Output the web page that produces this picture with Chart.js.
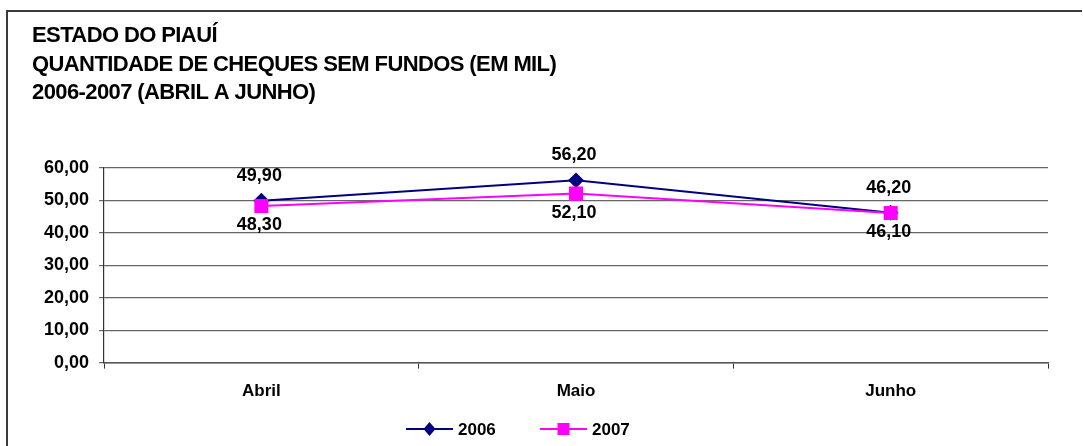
<!DOCTYPE html>
<html>
<head>
<meta charset="utf-8">
<script src="https://cdn.jsdelivr.net/npm/chart.js@4/dist/chart.umd.min.js"></script>
<style>
  html, body { margin: 0; padding: 0; background: #fff; }
  #wrap { width: 1083px; height: 446px; position: relative; }
</style>
</head>
<body>
<div id="wrap"><canvas id="c" width="1083" height="446"></canvas></div>
<script>
const titleLines = ['ESTADO DO PIAUÍ', 'QUANTIDADE DE CHEQUES SEM FUNDOS (EM MIL)', '2006-2007 (ABRIL A JUNHO)'];
const categories = ['Abril', 'Maio', 'Junho'];
const seriesNames = ['2006', '2007'];
const values2006 = [49.9, 56.2, 46.2];
const values2007 = [48.3, 52.1, 46.1];
const yMin = 0, yMax = 60, yStep = 10;

const FONT = '"Liberation Sans", Arial, sans-serif';
const fmt = v => v.toFixed(2).replace('.', ',');

const framePlugin = {
  id: 'frame',
  beforeDraw(chart) {
    const ctx = chart.ctx;
    ctx.save();
    ctx.fillStyle = '#fff';
    ctx.fillRect(0, 0, chart.width, chart.height);
    ctx.strokeStyle = '#3a3a3a';
    ctx.lineWidth = 2;
    ctx.beginPath();
    ctx.moveTo(7, chart.height);
    ctx.lineTo(7, 11);
    ctx.lineTo(1082, 11);
    ctx.stroke();
    // title
    ctx.fillStyle = '#000';
    ctx.font = 'bold 22px ' + FONT;
    ctx.letterSpacing = '-0.6px';
    ctx.textBaseline = 'alphabetic';
    ctx.textAlign = 'left';
    const baselines = [42, 70.5, 99];
    titleLines.forEach((t, i) => ctx.fillText(t, 32, baselines[i]));
    ctx.restore();
  },
  afterDatasetsDraw(chart) {
    const ctx = chart.ctx;
    ctx.save();
    ctx.fillStyle = '#000';
    ctx.font = 'bold 18px ' + FONT;
    ctx.textAlign = 'center';
    ctx.textBaseline = 'middle';
    chart.data.datasets.forEach((ds, di) => {
      const meta = chart.getDatasetMeta(di);
      meta.data.forEach((pt, i) => {
        const off = di === 0 ? -25 : 19;
        ctx.fillText(fmt(ds.data[i]), pt.x - 2, pt.y + off);
      });
    });
    // custom legend
    const items = [
      { x: 406, ds: chart.data.datasets[0] },
      { x: 540, ds: chart.data.datasets[1] }
    ];
    const y = 429;
    items.forEach(it => {
      ctx.strokeStyle = it.ds.borderColor;
      ctx.lineWidth = 2;
      ctx.beginPath();
      ctx.moveTo(it.x, y);
      ctx.lineTo(it.x + 47, y);
      ctx.stroke();
      const cx = it.x + 23.5;
      ctx.fillStyle = it.ds.pointBackgroundColor;
      ctx.beginPath();
      if (it.ds.pointStyle === 'rectRot') {
        ctx.moveTo(cx, y - 7); ctx.lineTo(cx + 6, y); ctx.lineTo(cx, y + 7); ctx.lineTo(cx - 6, y); ctx.closePath();
      } else {
        ctx.rect(cx - 6, y - 6, 12, 12);
      }
      ctx.fill();
      ctx.fillStyle = '#000';
      ctx.font = 'bold 17px ' + FONT;
      ctx.textAlign = 'left';
      ctx.textBaseline = 'middle';
      ctx.fillText(it.ds.label, it.x + 52, y + 1);
    });
    ctx.restore();
  }
};

new Chart(document.getElementById('c'), {
  type: 'line',
  data: {
    labels: categories,
    datasets: [
      {
        label: seriesNames[0],
        data: values2006,
        order: 1,
        borderColor: '#000080',
        backgroundColor: '#000080',
        pointBackgroundColor: '#000080',
        pointBorderColor: '#000080',
        pointStyle: 'rectRot',
        pointRadius: 6.5,
        borderWidth: 2,
        tension: 0
      },
      {
        label: seriesNames[1],
        data: values2007,
        order: 0,
        borderColor: '#FF00FF',
        backgroundColor: '#FF00FF',
        pointBackgroundColor: '#FF00FF',
        pointBorderColor: '#FF00FF',
        pointStyle: 'rect',
        pointRadius: 8.5,
        borderWidth: 2,
        tension: 0
      }
    ]
  },
  options: {
    responsive: false,
    animation: false,
    devicePixelRatio: 1,
    layout: { padding: { top: 168, left: 34, right: 35, bottom: 31 } },
    plugins: {
      legend: { display: false },
      title: { display: false },
      tooltip: { enabled: false }
    },
    scales: {
      x: {
        offset: true,
        grid: { display: true, drawOnChartArea: false, offset: true, color: '#333', tickLength: 6, lineWidth: 1 },
        border: { display: true, color: '#555', width: 1.5 },
        ticks: { color: '#000', font: { family: FONT, size: 17, weight: 'bold' }, padding: 13 }
      },
      y: {
        min: yMin, max: yMax,
        grid: { color: '#666', tickLength: 5, lineWidth: 1.2 },
        border: { display: true, color: '#333', width: 1.2 },
        ticks: {
          stepSize: yStep,
          color: '#000',
          font: { family: FONT, size: 18, weight: 'bold' },
          padding: 10,
          callback: v => fmt(v)
        }
      }
    }
  },
  plugins: [framePlugin]
});
</script>
</body>
</html>
